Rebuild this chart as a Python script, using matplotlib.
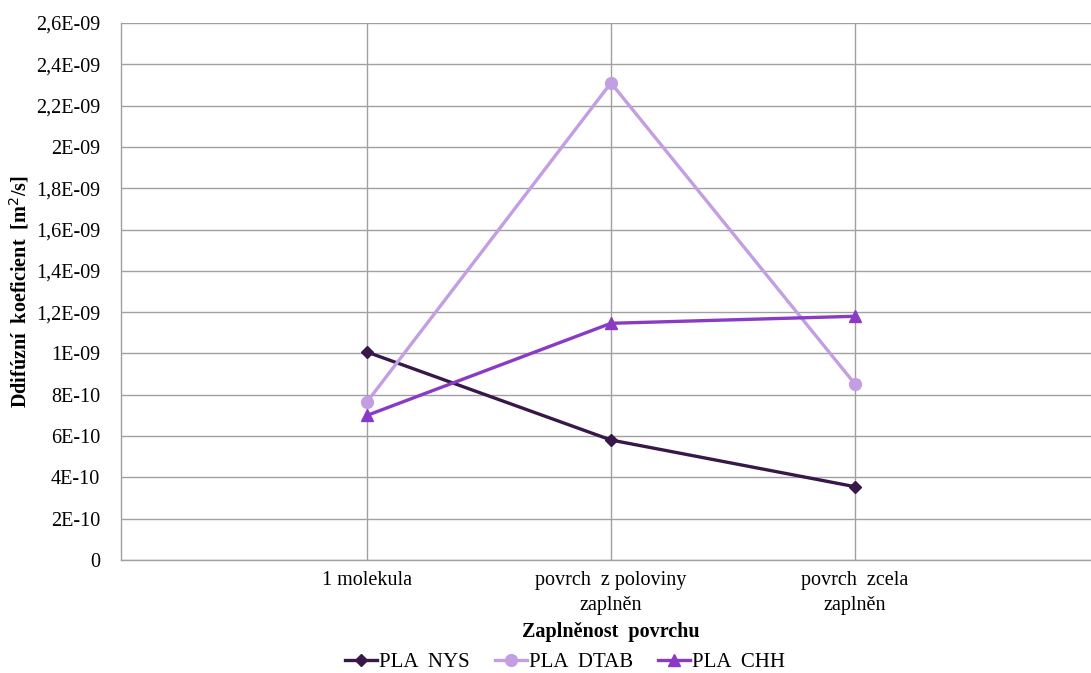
import matplotlib
matplotlib.use("Agg")
import matplotlib.pyplot as plt
from matplotlib.ticker import FixedLocator

categories = ["1 molekula", "povrch  z poloviny\nzaplněn", "povrch  zcela\nzaplněn"]
pla_nys = [1.007e-9, 5.81e-10, 3.55e-10]
pla_dtab = [7.65e-10, 2.31e-9, 8.52e-10]
pla_chh = [7.0e-10, 1.146e-9, 1.18e-9]
series_names = ["PLA  NYS", "PLA  DTAB", "PLA  CHH"]

y_ticks = [0, 2e-10, 4e-10, 6e-10, 8e-10, 1e-9, 1.2e-9, 1.4e-9, 1.6e-9,
           1.8e-9, 2e-9, 2.2e-9, 2.4e-9, 2.6e-9]
y_tick_labels = ["0", "2E-10", "4E-10", "6E-10", "8E-10", "1E-09", "1,2E-09",
                 "1,4E-09", "1,6E-09", "1,8E-09", "2E-09", "2,2E-09", "2,4E-09",
                 "2,6E-09"]

plt.rcParams["font.family"] = ["Liberation Serif", "DejaVu Serif"]
FS = 14.5

W, H = 1091, 673
fig = plt.figure(figsize=(W / 100, H / 100), dpi=100)
left, right, top, bottom = 121, 1091, 23, 560
ax = fig.add_axes([left / W, 1 - bottom / H, (right - left) / W, (bottom - top) / H])

x = [1, 2, 3]
ax.plot(x, pla_nys, color="#371848", lw=2.4, marker="D", ms=6.5, label=series_names[0], zorder=3)
ax.plot(x, pla_dtab, color="#c39ee2", lw=2.4, marker="o", ms=8.5, label=series_names[1], zorder=3)
ax.plot(x, pla_chh, color="#8a3bc6", lw=2.4, marker="^", ms=8.5, label=series_names[2], zorder=3)

ax.set_xlim(-0.008, (right - left) / 244 - 0.008)
ax.set_ylim(0, 2.6e-9)
ax.set_xticks(x)
ax.set_xticklabels(categories, fontsize=FS, linespacing=1.4)
ax.yaxis.set_major_locator(FixedLocator(y_ticks))
ax.set_yticklabels(y_tick_labels, fontsize=FS)
ax.tick_params(axis="both", length=0)
ax.tick_params(axis="y", pad=15)
ax.tick_params(axis="x", pad=8)

ax.grid(True, color="#a0a0a0", lw=1)
ax.set_axisbelow(True)
for s in ["top", "right"]:
    ax.spines[s].set_visible(False)
for s in ["left", "bottom"]:
    ax.spines[s].set_color("#a0a0a0")
    ax.spines[s].set_linewidth(1)

fig.text(19 / W, 1 - 292 / H, "Ddifúzní  koeficient  [m$^2$/s]", fontsize=FS,
         fontweight="bold", rotation=90, ha="center", va="center")
fig.text(611 / W, 1 - 632 / H, "Zaplněnost  povrchu", fontsize=FS, fontweight="bold",
         ha="center", va="center")

fig.legend(loc="center", bbox_to_anchor=(565 / W, 1 - 662 / H), ncol=3, frameon=False,
           fontsize=15, handlelength=1.55, handletextpad=0.1, columnspacing=1.2,
           borderaxespad=0, borderpad=0)

fig.savefig("out.png", dpi=100, facecolor="white")
